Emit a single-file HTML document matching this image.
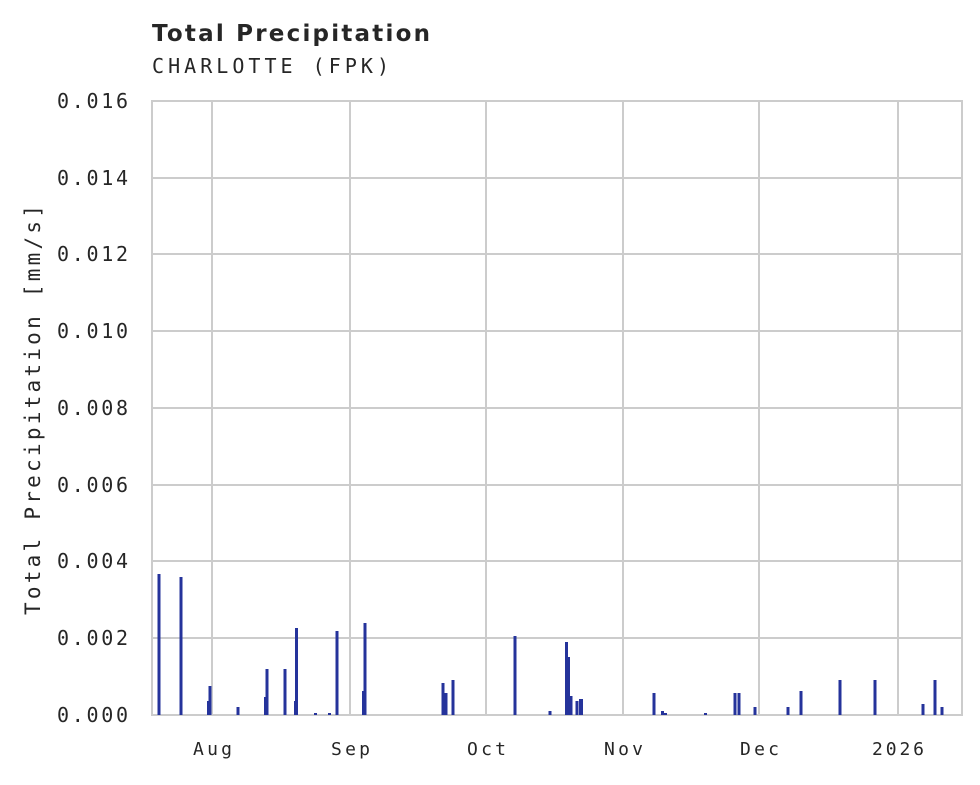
<!DOCTYPE html>
<html><head><meta charset="utf-8"><style>
body{margin:0;background:#fff;}
text{font-family:"DejaVu Sans Mono","Liberation Mono",monospace;fill:#262626;}
</style></head><body>
<svg width="980" height="780" xmlns="http://www.w3.org/2000/svg">
<rect width="980" height="780" fill="#fff"/>
<text x="152" y="41" textLength="278" lengthAdjust="spacing" style="font-family:'DejaVu Sans','Liberation Sans',sans-serif;font-weight:bold;font-size:23px">Total Precipitation</text>
<text x="152" y="73" font-size="20" textLength="237" lengthAdjust="spacing">CHARLOTTE (FPK)</text>
<g stroke="#cccccc" stroke-width="2">
<line x1="152" x2="962" y1="178" y2="178"/><line x1="152" x2="962" y1="254" y2="254"/>
<line x1="152" x2="962" y1="331" y2="331"/><line x1="152" x2="962" y1="408" y2="408"/>
<line x1="152" x2="962" y1="485" y2="485"/><line x1="152" x2="962" y1="561" y2="561"/>
<line x1="152" x2="962" y1="638" y2="638"/>
<line x1="212" x2="212" y1="101" y2="715"/><line x1="350" x2="350" y1="101" y2="715"/>
<line x1="486" x2="486" y1="101" y2="715"/><line x1="623" x2="623" y1="101" y2="715"/>
<line x1="759" x2="759" y1="101" y2="715"/><line x1="898" x2="898" y1="101" y2="715"/>
<rect x="152" y="101" width="810" height="614" fill="none"/>
</g>
<g fill="#25339b">
<rect x="157.5" y="574" width="3" height="141"/>
<rect x="179.5" y="577" width="3" height="138"/>
<rect x="207" y="701" width="2" height="14"/><rect x="208.5" y="686" width="3" height="29"/>
<rect x="236.5" y="707" width="3" height="8"/>
<rect x="264" y="697" width="2" height="18"/><rect x="265.5" y="669" width="3" height="46"/>
<rect x="283.5" y="669" width="3" height="46"/>
<rect x="294" y="701" width="2" height="14"/><rect x="295" y="628" width="3" height="87"/>
<rect x="314" y="713" width="3" height="2"/><rect x="328" y="713" width="3" height="2"/>
<rect x="335.5" y="631" width="3" height="84"/>
<rect x="362" y="691" width="2" height="24"/><rect x="363.5" y="623" width="3" height="92"/>
<rect x="441.5" y="683" width="3" height="32"/><rect x="444.5" y="693" width="3" height="22"/>
<rect x="451.5" y="680" width="3" height="35"/>
<rect x="513.5" y="636" width="3" height="79"/>
<rect x="548.5" y="711" width="3" height="4"/>
<rect x="565" y="642" width="3" height="73"/><rect x="568" y="657" width="2" height="58"/>
<rect x="569.5" y="696" width="3" height="19"/>
<rect x="575.5" y="701" width="3" height="14"/><rect x="579" y="699" width="4" height="16"/>
<rect x="652.5" y="693" width="3" height="22"/>
<rect x="661" y="711" width="3" height="4"/><rect x="664" y="713" width="3" height="2"/>
<rect x="704" y="713" width="3" height="2"/>
<rect x="733.5" y="693" width="3" height="22"/><rect x="737.5" y="693" width="3" height="22"/>
<rect x="753.5" y="707" width="3" height="8"/>
<rect x="786.5" y="707" width="3" height="8"/>
<rect x="799.5" y="691" width="3" height="24"/>
<rect x="838.5" y="680" width="3" height="35"/>
<rect x="873.5" y="680" width="3" height="35"/>
<rect x="921.5" y="704" width="3" height="11"/>
<rect x="933.5" y="680" width="3" height="35"/>
<rect x="940.5" y="707" width="3" height="8"/>
</g>
<g font-size="20">
<text x="57" y="108" textLength="71">0.016</text><text x="57" y="185" textLength="71">0.014</text>
<text x="57" y="261" textLength="71">0.012</text><text x="57" y="338" textLength="71">0.010</text>
<text x="57" y="415" textLength="71">0.008</text><text x="57" y="492" textLength="71">0.006</text>
<text x="57" y="568" textLength="71">0.004</text><text x="57" y="645" textLength="71">0.002</text>
<text x="57" y="722" textLength="71">0.000</text>
</g>
<g font-size="18">
<text x="193" y="755" textLength="39">Aug</text><text x="331" y="755" textLength="39">Sep</text>
<text x="467" y="755" textLength="39">Oct</text><text x="604" y="755" textLength="39">Nov</text>
<text x="740" y="755" textLength="39">Dec</text><text x="872" y="755" textLength="52">2026</text>
</g>
<text transform="translate(40,615) rotate(-90)" font-size="21" textLength="410">Total Precipitation [mm/s]</text>
</svg>
</body></html>
